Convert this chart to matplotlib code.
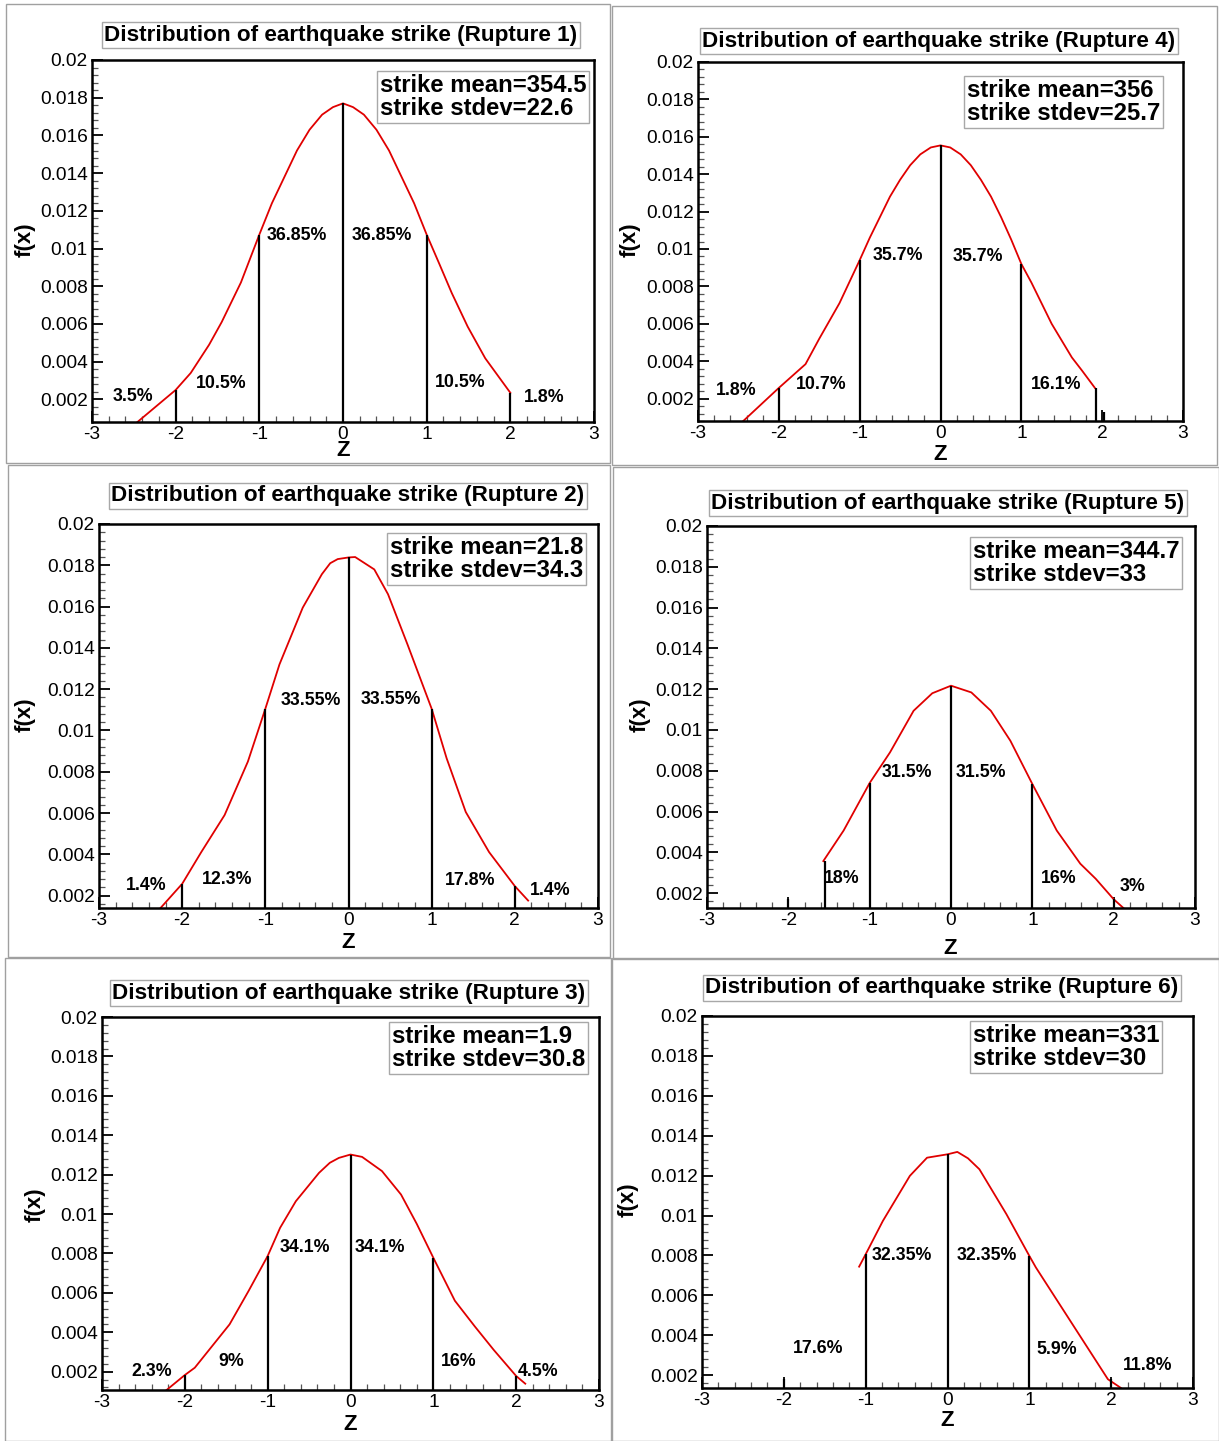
import numpy as np
import matplotlib
matplotlib.use('Agg')
import matplotlib.pyplot as plt
from matplotlib.patches import Rectangle
from matplotlib.ticker import MultipleLocator, FormatStrFormatter

plt.rcParams['font.family'] = ['Liberation Sans', 'DejaVu Sans']
plt.rcParams['axes.unicode_minus'] = False

W, H = 1219, 1441

# ---- data (z, f(x)) ----
ruptures = [1, 4, 2, 5, 3, 6]
means = ['354.5', '356', '21.8', '344.7', '1.9', '331']
stdevs = ['22.6', '25.7', '34.3', '33', '30.8', '30']

z1 = [-2.47, -2.0, -1.82, -1.6, -1.45, -1.22, -1.0, -0.85, -0.7, -0.55, -0.4, -0.25, -0.12, 0.0, 0.12, 0.25, 0.4,
      0.55, 0.7, 0.85, 1.0, 1.15, 1.3, 1.49, 1.7, 2.0]
f1 = [0.00075, 0.0025, 0.0034, 0.0049, 0.0061, 0.0082, 0.01074, 0.0124, 0.0138, 0.0152, 0.0163, 0.0171, 0.0175,
      0.0177, 0.0175, 0.0171, 0.0163, 0.0152, 0.0138, 0.0124, 0.01074, 0.0092, 0.00764, 0.00586, 0.00418, 0.00235]

z4 = [-2.44, -2.0, -1.67, -1.5, -1.25, -1.0, -0.875, -0.75, -0.625, -0.5, -0.375, -0.25, -0.12, 0.0, 0.12, 0.25,
      0.375, 0.5, 0.625, 0.75, 0.875, 1.0, 1.125, 1.25, 1.375, 1.5, 1.625, 1.75, 1.91]
f4 = [0.0008, 0.00257, 0.00384, 0.0052, 0.0071, 0.0094, 0.0106, 0.0117, 0.0128, 0.0137, 0.01448, 0.01506, 0.01543,
      0.01554, 0.01543, 0.01506, 0.01448, 0.0137, 0.0128, 0.0117, 0.0105, 0.0092, 0.0082, 0.0071, 0.006, 0.0051,
      0.0042, 0.0035, 0.00257]

z2 = [-2.26, -2.0, -1.77, -1.49, -1.21, -1.0, -0.83, -0.55, -0.32, -0.22, -0.13, 0.0, 0.08, 0.31, 0.475, 0.71, 1.0,
      1.18, 1.41, 1.69, 2.0, 2.16]
f2 = [0.0014, 0.00257, 0.00411, 0.0059, 0.00849, 0.01105, 0.0132, 0.01595, 0.01757, 0.0181, 0.0183, 0.01838,
      0.0184, 0.0178, 0.0166, 0.01416, 0.01105, 0.00865, 0.00605, 0.00411, 0.00246, 0.00176]

z5 = [-1.57, -1.32, -1.0, -0.75, -0.46, -0.23, 0.0, 0.25, 0.49, 0.73, 1.0, 1.3, 1.59, 1.78, 2.0, 2.12]
f5 = [0.00357, 0.00507, 0.0074, 0.0089, 0.01094, 0.0118, 0.01217, 0.01184, 0.01094, 0.00947, 0.00735, 0.00507,
      0.00344, 0.0027, 0.0017, 0.00127]

z3 = [-2.22, -2.0, -1.88, -1.46, -1.23, -1.0, -0.85, -0.66, -0.38, -0.25, -0.14, 0.0, 0.14, 0.38, 0.61, 0.8, 1.0,
      1.26, 1.5, 1.73, 2.0, 2.11]
f3 = [0.00107, 0.00183, 0.0022, 0.0044, 0.0061, 0.00787, 0.0093, 0.01065, 0.01209, 0.0126, 0.01285, 0.01302,
      0.0129, 0.01218, 0.01099, 0.0095, 0.00778, 0.0056, 0.0043, 0.0031, 0.00178, 0.00139]

z6 = [-1.08, -1.0, -0.79, -0.46, -0.25, 0.0, 0.12, 0.25, 0.39, 0.72, 1.0, 1.08, 1.96, 2.12]
f6 = [0.00744, 0.00806, 0.00973, 0.01199, 0.0129, 0.01307, 0.01319, 0.01287, 0.01232, 0.01007, 0.00798, 0.0074,
      0.0018, 0.00136]

curves_z = [z1, z4, z2, z5, z3, z6]
curves_f = [f1, f4, f2, f5, f3, f6]

# vertical separators: z position and height
vz = [[-2, -1, 0, 1, 2],
      [-2, -1, 0, 1, 1.92, 2.02],
      [-2, -1, 0, 1, 2],
      [-2, -1.55, -1, 0, 1, 2],
      [-2, -1, 0, 1, 2],
      [-2, -1, 0, 1, 2]]
vtop = [[0.0025, 0.01074, 0.0177, 0.01074, 0.00235],
        [0.00257, 0.0094, 0.01554, 0.0092, 0.00257, 0.0013],
        [0.00257, 0.01105, 0.01838, 0.01105, 0.00246],
        [0.0017, 0.00357, 0.0074, 0.01217, 0.00735, 0.0017],
        [0.00183, 0.00787, 0.01302, 0.00778, 0.00178],
        [0.0018, 0.00806, 0.01307, 0.00798, 0.0018]]

pct_text = [['3.5%', '10.5%', '36.85%', '36.85%', '10.5%', '1.8%'],
            ['1.8%', '10.7%', '35.7%', '35.7%', '16.1%'],
            ['1.4%', '12.3%', '33.55%', '33.55%', '17.8%', '1.4%'],
            ['18%', '31.5%', '31.5%', '16%', '3%'],
            ['2.3%', '9%', '34.1%', '34.1%', '16%', '4.5%'],
            ['17.6%', '32.35%', '32.35%', '5.9%', '11.8%']]

# label anchor points in data coords
pct_z = [[-2.51, -1.45, -0.55, 0.47, 1.40, 2.41],
         [-2.53, -1.48, -0.53, 0.46, 1.43],
         [-2.43, -1.46, -0.45, 0.51, 1.46, 2.43],
         [-1.34, -0.54, 0.37, 1.32, 2.23],
         [-2.40, -1.44, -0.55, 0.36, 1.31, 2.26],
         [-1.58, -0.56, 0.48, 1.34, 2.44]]
pct_f = [[0.00216, 0.00285, 0.01068, 0.01068, 0.0029, 0.0021],
         [0.00243, 0.00275, 0.00964, 0.00959, 0.00275],
         [0.00248, 0.00278, 0.01146, 0.01151, 0.00273, 0.00224],
         [0.00273, 0.00792, 0.00792, 0.00273, 0.00234],
         [0.0020, 0.00251, 0.00829, 0.00829, 0.00251, 0.0020],
         [0.00335, 0.0080, 0.0080, 0.0033, 0.0025]]

ybot = [0.0008, 0.0008, 0.0014, 0.00127, 0.00107, 0.00136]

# ---- layout (pixels) ----
axes_px = [(92, 60, 594, 422), (698, 62, 1183, 421),
           (99, 524, 598, 908), (707, 526, 1195, 908),
           (102, 1017, 599, 1390), (702, 1016, 1193, 1388)]
frames_px = [(6, 4, 610, 463), (612, 6, 1217, 465),
             (8, 465, 610, 957), (613, 467, 1219, 959),
             (5, 958, 611, 1441), (612, 958, 1219, 1441)]
title_px = [(341, 35), (939, 41), (348, 496), (948, 503), (349, 993), (942, 988)]
info_px = [(380, 97), (967, 102), (390, 559), (973, 563), (392, 1048), (973, 1047)]
ylab_px = [(25, 240), (630, 240), (25, 715), (640, 715), (35, 1205), (628, 1200)]
xlab_px = [(343, 451), (940, 454), (348, 942), (950, 948), (350, 1424), (947, 1421)]


def frac(x, y):
    return x / W, 1 - y / H


fig = plt.figure(figsize=(W / 100, H / 100), dpi=100)

for l, t, r, b in frames_px:
    fig.patches.append(Rectangle((l / W, 1 - b / H), (r - l) / W, (b - t) / H, transform=fig.transFigure,
                                 fill=False, edgecolor='#a0a0a0', linewidth=1.0))

for i in range(6):
    l, t, r, b = axes_px[i]
    ax = fig.add_axes([l / W, 1 - b / H, (r - l) / W, (b - t) / H])
    ax.plot(curves_z[i], curves_f[i], color='#e00000', lw=1.3, clip_on=True)
    ax.vlines(vz[i], ybot[i], vtop[i], color='black', lw=1.6)
    for s, zz, ff in zip(pct_text[i], pct_z[i], pct_f[i]):
        ax.text(zz, ff, s, ha='center', va='center', fontsize=12.8, fontweight='bold')
    ax.set_xlim(-3, 3)
    ax.set_ylim(ybot[i], 0.02)
    ax.xaxis.set_major_locator(MultipleLocator(1))
    ax.xaxis.set_minor_locator(MultipleLocator(0.2))
    ax.yaxis.set_major_locator(MultipleLocator(0.002))
    ax.yaxis.set_minor_locator(MultipleLocator(0.0004))
    ax.xaxis.set_major_formatter(FormatStrFormatter('%g'))
    ax.yaxis.set_major_formatter(FormatStrFormatter('%g'))
    ax.tick_params(which='both', direction='in', top=False, right=False, labelsize=13.8, width=1.3)
    ax.tick_params(which='major', length=8, pad=3)
    ax.tick_params(which='minor', length=4, width=0.9, color='#555555')
    for sp in ax.spines.values():
        sp.set_linewidth(1.8)

    tx, ty = frac(*title_px[i])
    fig.text(tx, ty, 'Distribution of earthquake strike (Rupture %d)' % ruptures[i], ha='center', va='center',
             fontsize=16.2, fontweight='bold',
             bbox=dict(boxstyle='square,pad=0.12', fc='white', ec='#a8a8a8', lw=1.0))
    ix, iy = frac(*info_px[i])
    fig.text(ix, iy, 'strike mean=%s\nstrike stdev=%s' % (means[i], stdevs[i]), ha='left', va='center',
             fontsize=17.2, fontweight='bold', linespacing=1.0,
             bbox=dict(boxstyle='square,pad=0.12', fc='white', ec='#a8a8a8', lw=1.0))
    lx, ly = frac(*ylab_px[i])
    fig.text(lx, ly, 'f(x)', rotation=90, ha='center', va='center', fontsize=16, fontweight='bold')
    zx, zy = frac(*xlab_px[i])
    fig.text(zx, zy, 'Z', ha='center', va='center', fontsize=16, fontweight='bold')

fig.savefig('out.png', dpi=100)
